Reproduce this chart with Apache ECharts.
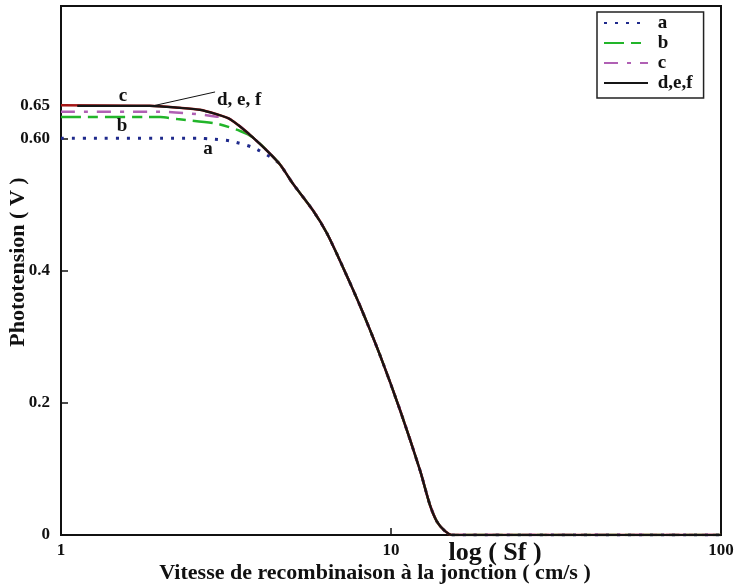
<!DOCTYPE html>
<html>
<head>
<meta charset="utf-8">
<script src="https://cdn.jsdelivr.net/npm/echarts@6/dist/echarts.min.js"></script>
<style>
  html, body { margin: 0; padding: 0; background: #ffffff; }
  #chart { width: 742px; height: 584px; }
</style>
</head>
<body>
<div id="chart"></div>
<script>
// Open-circuit phototension versus junction recombination velocity Sf
const FONT = '"Liberation Serif", "Times New Roman", serif';

const yTickValues = [0, 0.2, 0.4, 0.6, 0.65];
const yTickLabels = ['0', '0.2', '0.4', '0.60', '0.65'];
const legendNames = ['a', 'b', 'c', 'd,e,f'];

// [Sf (cm/s), phototension (V)]
const curveA = [[1, 0.600], [2.64, 0.600], [2.83, 0.599], [3.25, 0.596], [3.82, 0.586], [4.3, 0.572],
  [4.58, 0.562], [5.05, 0.531], [5.8, 0.491], [6.4, 0.456], [7.15, 0.405], [8.05, 0.347], [9.26, 0.272],
  [10.65, 0.189], [12.24, 0.098], [13.13, 0.045], [13.79, 0.020], [14.57, 0.006], [15.3, 0], [100, 0]];

const curveB = [[1, 0.632], [2.0, 0.632], [2.25, 0.629], [2.97, 0.622], [3.49, 0.611], [3.82, 0.601],
  [4.58, 0.562], [5.05, 0.531], [5.8, 0.491], [6.4, 0.456], [7.15, 0.405], [8.05, 0.347], [9.26, 0.272],
  [10.65, 0.189], [12.24, 0.098], [13.13, 0.045], [13.79, 0.020], [14.57, 0.006], [15.3, 0], [100, 0]];

const curveC = [[1, 0.640], [2.0, 0.640], [2.64, 0.636], [2.93, 0.633], [3.25, 0.629], [3.82, 0.601],
  [4.58, 0.562], [5.05, 0.531], [5.8, 0.491], [6.4, 0.456], [7.15, 0.405], [8.05, 0.347], [9.26, 0.272],
  [10.65, 0.189], [12.24, 0.098], [13.13, 0.045], [13.79, 0.020], [14.57, 0.006], [15.3, 0], [100, 0]];

const curveF = [[1, 0.650], [1.86, 0.649], [2.29, 0.646], [2.64, 0.643], [2.93, 0.637], [3.25, 0.629],
  [3.82, 0.601], [4.58, 0.562], [5.05, 0.531], [5.8, 0.491], [6.4, 0.456], [7.15, 0.405], [8.05, 0.347],
  [9.26, 0.272], [10.65, 0.189], [12.24, 0.098], [13.13, 0.045], [13.79, 0.020], [14.57, 0.006],
  [15.3, 0], [100, 0]];

const curveDE = [[1.12, 0.649], [1.86, 0.649], [2.29, 0.646], [2.64, 0.643], [2.93, 0.637], [3.25, 0.629],
  [3.82, 0.601], [4.58, 0.562], [5.05, 0.531], [5.8, 0.491], [6.4, 0.456], [7.15, 0.405], [8.05, 0.347],
  [9.26, 0.272], [10.65, 0.189], [12.24, 0.098], [13.13, 0.045], [13.79, 0.020], [14.57, 0.006],
  [15.3, 0], [100, 0]];

// curve tags placed in data coordinates
const curveTags = [
  { text: 'c', at: [1.54, 0.664], align: 'center' },
  { text: 'b', at: [1.53, 0.619], align: 'center' },
  { text: 'a', at: [2.79, 0.583], align: 'center' },
  { text: 'd, e, f', at: [2.97, 0.657], align: 'left' }
];
const leaderLine = [[1.90, 0.649], [2.93, 0.670]];

const chart = echarts.init(document.getElementById('chart'), null, { renderer: 'canvas' });

const boldText = (size) => ({ fontFamily: FONT, fontWeight: 'bold', fontSize: size, color: '#111' });

function lineSeries(name, data, color, type, width) {
  return {
    name: name, type: 'line', data: data, symbol: 'none',
    smooth: 0.25,
    lineStyle: { color: color, type: type, width: width, cap: 'butt' },
    itemStyle: { color: color },
    animation: false, silent: true
  };
}

chart.setOption({
  animation: false,
  backgroundColor: '#ffffff',
  grid: { left: 61, right: 21, top: 6, bottom: 49, show: true, borderColor: '#111', borderWidth: 2,
    backgroundColor: 'transparent' },
  xAxis: {
    type: 'log', logBase: 10, min: 1, max: 100,
    axisLine: { lineStyle: { color: '#111', width: 2 } },
    axisTick: { inside: true, length: 7, lineStyle: { color: '#111', width: 1.5 } },
    minorTick: { show: false },
    splitLine: { show: false },
    axisLabel: Object.assign({ margin: 7 }, boldText(17))
  },
  yAxis: {
    type: 'value', min: 0, max: 0.8,
    axisLine: { show: true, lineStyle: { color: '#111', width: 2 } },
    axisTick: { show: true, inside: true, length: 7, customValues: yTickValues,
      lineStyle: { color: '#111', width: 1.5 } },
    splitLine: { show: false },
    axisLabel: Object.assign({
      margin: 11, customValues: yTickValues,
      formatter: function (v) {
        for (let i = 0; i < yTickValues.length; i++) {
          if (Math.abs(yTickValues[i] - v) < 1e-6) return yTickLabels[i];
        }
        return '';
      }
    }, boldText(17))
  },
  legend: {
    data: legendNames,
    orient: 'vertical', left: 597, top: 12,
    itemWidth: 44, itemHeight: 14, itemGap: 0,
    padding: [1, 11, 5, 6],
    borderColor: '#222', borderWidth: 1.5,
    itemStyle: { opacity: 0 },
    formatter: (n) => ' ' + n,
    textStyle: Object.assign({ lineHeight: 20 }, boldText(19)),
    selectedMode: false
  },
  series: [
    lineSeries('a', curveA, '#1f2a8c', [3, 8], 3),
    lineSeries('b', curveB, '#22b52a', [20, 7, 10, 7], 2.5),
    lineSeries('c', curveC, '#b060b4', [14, 9, 4, 9], 2.5),
    lineSeries('f', curveF, '#a51515', 'solid', 2.5),
    lineSeries('d,e,f', curveDE, '#151515', 'solid', 2.2)
  ]
});

// axis titles, curve tags and leader line
const px = (p) => chart.convertToPixel({ gridIndex: 0 }, p);
const graphics = [
  { type: 'text', x: 18, y: 262, rotation: Math.PI / 2,
    style: { text: 'Phototension ( V )', font: 'bold 22px ' + FONT, fill: '#111', align: 'center', verticalAlign: 'middle' } },
  { type: 'text', x: 375, y: 573,
    style: { text: 'Vitesse de recombinaison à la jonction ( cm/s )', font: 'bold 22px ' + FONT, fill: '#111', align: 'center', verticalAlign: 'middle' } },
  { type: 'text', x: 495, y: 553,
    style: { text: 'log ( Sf )', font: 'bold 26px ' + FONT, fill: '#111', align: 'center', verticalAlign: 'middle' } }
];
curveTags.forEach(function (t) {
  const p = px(t.at);
  graphics.push({ type: 'text', x: p[0], y: p[1], z: 10,
    style: { text: t.text, font: 'bold 19px ' + FONT, fill: '#111', align: t.align, verticalAlign: 'middle' } });
});
const l0 = px(leaderLine[0]), l1 = px(leaderLine[1]);
graphics.push({ type: 'line', z: 10, shape: { x1: l0[0], y1: l0[1], x2: l1[0], y2: l1[1] },
  style: { stroke: '#111', lineWidth: 1 } });
chart.setOption({ graphic: graphics });
</script>
</body>
</html>
